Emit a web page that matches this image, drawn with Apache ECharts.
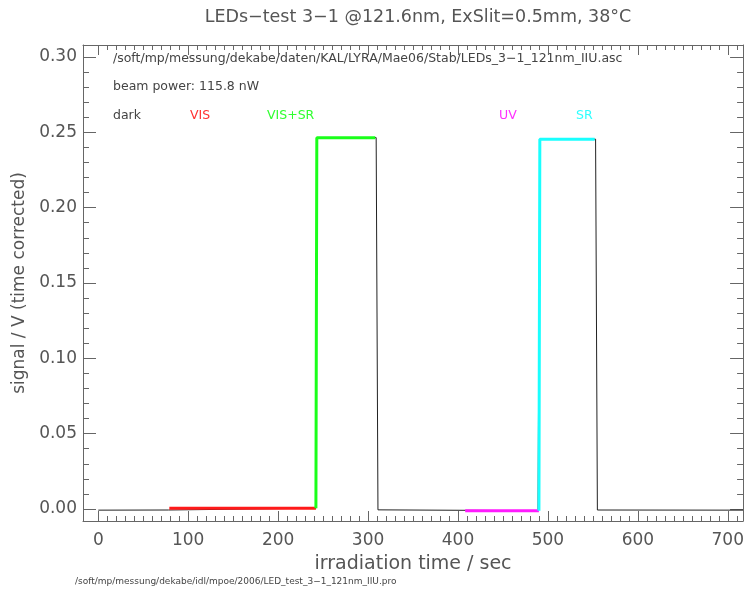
<!DOCTYPE html>
<html>
<head>
<meta charset="utf-8">
<script src="https://cdn.jsdelivr.net/npm/echarts@6/dist/echarts.min.js"></script>
<style>html,body{margin:0;padding:0;background:#fff;}#c{width:747px;height:597px;}</style>
</head>
<body>
<div id="c"></div>
<script>
// ---- data ----
const traceTime   = [0, 78, 79, 242, 243, 309, 311, 408, 409, 489, 491, 553, 555, 717];
const traceSignal = [-0.0008, -0.0007, 0.0004, 0.0005, 0.2465, 0.2465, -0.0006, -0.0009, -0.0012, -0.0012, 0.2455, 0.2455, -0.0007, -0.0008];
const visTime     = [79, 242];
const visSignal   = [0.0004, 0.0005];
const visSrTime   = [242, 243, 308];
const visSrSignal = [0.0005, 0.2465, 0.2465];
const uvTime      = [408, 490];
const uvSignal    = [-0.0012, -0.0012];
const srTime      = [490, 491, 552];
const srSignal    = [-0.0012, 0.2455, 0.2455];

const xMajorTicks = [0, 100, 200, 300, 400, 500, 600, 700];
const yMajorTicks = [0, 0.05, 0.10, 0.15, 0.20, 0.25, 0.30];
const xMinorTicks = []; for (let v = 0; v <= 710; v += 10) xMinorTicks.push(v);
const yMinorTicks = []; for (let i = 0; i <= 30; i++) yMinorTicks.push(+(i * 0.01).toFixed(2));

const X_MIN = -17, X_MAX = 717, Y_MIN = -0.008, Y_MAX = 0.308;
const AX = '#666', TXT = '#555', FONT = 'DejaVu Sans';

const zip = (a, b) => a.map((v, i) => [v, b[i]]);

function xAx(pos, ticks, len, labels, line, name) {
  return {
    type: 'value', position: pos, min: X_MIN, max: X_MAX,
    axisLine: { show: line, onZero: false, lineStyle: { color: AX, width: 1 } },
    axisTick: { show: true, inside: true, length: len, customValues: ticks, lineStyle: { color: AX } },
    axisLabel: labels ? { show: true, customValues: ticks, color: TXT, fontFamily: FONT, fontSize: 17, margin: 11 } : { show: false },
    splitLine: { show: false },
    name: name || '', nameLocation: 'middle', nameGap: 34,
    nameTextStyle: { color: TXT, fontFamily: FONT, fontSize: 19 }
  };
}
function yAx(pos, ticks, len, labels, line, name) {
  return {
    type: 'value', position: pos, min: Y_MIN, max: Y_MAX,
    axisLine: { show: line, onZero: false, lineStyle: { color: AX, width: 1 } },
    axisTick: { show: true, inside: true, length: len, customValues: ticks, lineStyle: { color: AX } },
    axisLabel: labels ? { show: true, customValues: ticks, color: TXT, fontFamily: FONT, fontSize: 17, margin: 6,
      formatter: v => v.toFixed(2) } : { show: false },
    splitLine: { show: false },
    name: name || '', nameLocation: 'middle', nameGap: 53, nameRotate: 90,
    nameTextStyle: { color: TXT, fontFamily: FONT, fontSize: 17 }
  };
}

function line(data, color, width, z) {
  return { type: 'line', data: data, symbol: 'none', animation: false, z: z,
    lineStyle: { color: color, width: width }, xAxisIndex: 0, yAxisIndex: 0 };
}

const txt = (x, y, s, color, size) => ({ type: 'text', left: x, top: y,
  style: { text: s, fill: color, font: size + 'px "' + FONT + '"' } });

const chart = echarts.init(document.getElementById('c'), null, { renderer: 'canvas' });
chart.setOption({
  animation: false,
  backgroundColor: '#fff',
  title: { text: 'LEDs\u2212test 3\u22121 @121.6nm, ExSlit=0.5mm, 38\u00b0C', left: 413, textAlign: 'center', top: 3,
    textStyle: { color: TXT, fontFamily: FONT, fontSize: 17.5, fontWeight: 'normal' } },
  grid: { left: 83, right: 3, top: 45, bottom: 76, containLabel: false },
  xAxis: [
    xAx('bottom', xMajorTicks, 10, true, true, 'irradiation time / sec'),
    xAx('bottom', xMinorTicks, 5, false, false),
    xAx('top', xMajorTicks, 10, false, true),
    xAx('top', xMinorTicks, 5, false, false)
  ],
  yAxis: [
    yAx('left', yMajorTicks, 13, true, true, 'signal / V (time corrected)'),
    yAx('left', yMinorTicks, 6, false, false),
    yAx('right', yMajorTicks, 13, false, true),
    yAx('right', yMinorTicks, 6, false, false)
  ],
  series: [
    line(zip(traceTime, traceSignal), '#222', 1, 2),
    line(zip(visTime, visSignal), '#ff1a1a', 3, 3),
    line(zip(visSrTime, visSrSignal), '#1aff1a', 3, 3),
    line(zip(uvTime, uvSignal), '#ff1aff', 3, 3),
    line(zip(srTime, srSignal), '#1affff', 3, 3)
  ],
  graphic: [
    txt(113, 52, '/soft/mp/messung/dekabe/daten/KAL/LYRA/Mae06/Stab/LEDs_3\u22121_121nm_IIU.asc', '#444', 12.5),
    txt(113, 80, 'beam power: 115.8 nW', '#444', 12.5),
    txt(113, 109, 'dark', '#444', 12.5),
    txt(190, 109, 'VIS', '#ff3030', 12.5),
    txt(267, 109, 'VIS+SR', '#30ff30', 12.5),
    txt(499, 109, 'UV', '#ff30ff', 12.5),
    txt(576, 109, 'SR', '#30ffff', 12.5),
    txt(75, 577, '/soft/mp/messung/dekabe/idl/mpoe/2006/LED_test_3\u22121_121nm_IIU.pro', '#444', 9)
  ]
});
</script>
</body>
</html>
